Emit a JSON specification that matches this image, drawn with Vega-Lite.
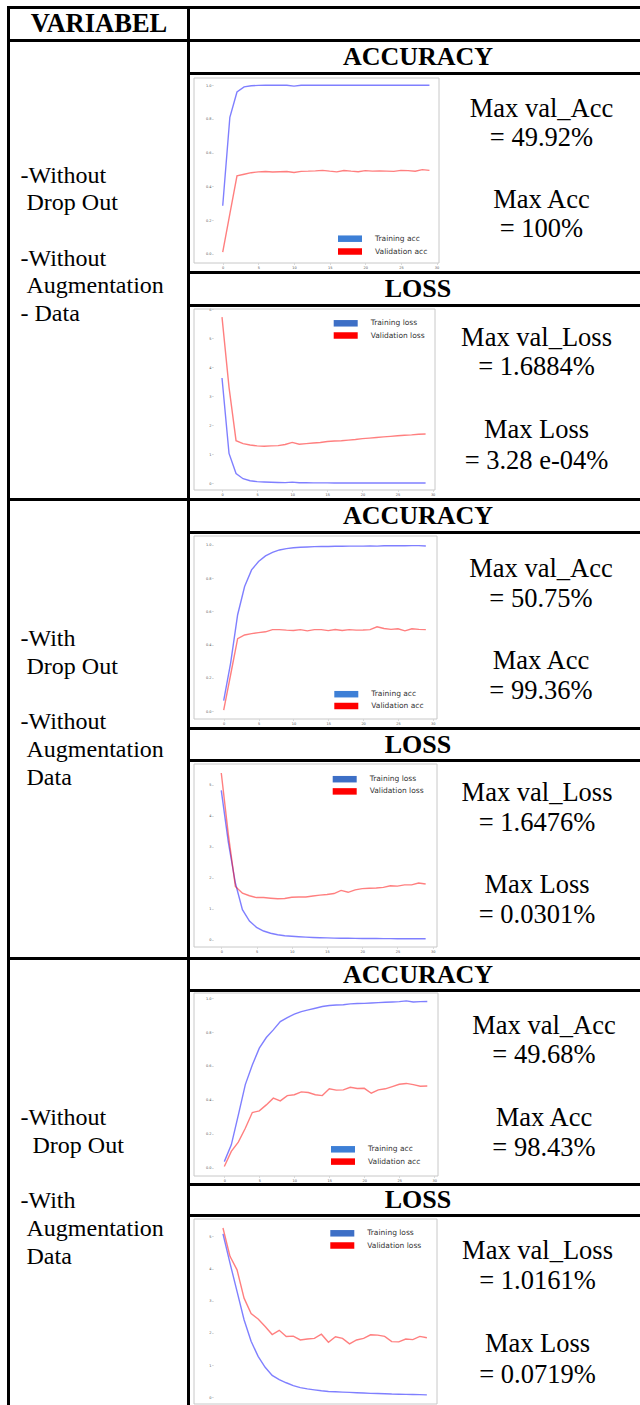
{
 "$schema": "https://vega.github.io/schema/vega-lite/v6.json",
 "padding": {"left": 7, "top": 6, "right": 0, "bottom": 0},
 "spacing": 0,
 "resolve": {"scale": {"color": "independent", "stroke": "independent"}, "legend": {"color": "independent", "stroke": "independent"}},
 "datasets": {
  "a1": [
   {"epoch":0,"Training acc":0.285,"Validation acc":0.01},
   {"epoch":1,"Training acc":0.81,"Validation acc":0.236},
   {"epoch":2,"Training acc":0.96,"Validation acc":0.462},
   {"epoch":3,"Training acc":0.99,"Validation acc":0.472},
   {"epoch":4,"Training acc":0.997,"Validation acc":0.481},
   {"epoch":5,"Training acc":0.999,"Validation acc":0.486},
   {"epoch":6,"Training acc":1.0,"Validation acc":0.488},
   {"epoch":7,"Training acc":1.0,"Validation acc":0.485},
   {"epoch":8,"Training acc":1.0,"Validation acc":0.487},
   {"epoch":9,"Training acc":1.0,"Validation acc":0.488},
   {"epoch":10,"Training acc":0.995,"Validation acc":0.482},
   {"epoch":11,"Training acc":1.0,"Validation acc":0.489},
   {"epoch":12,"Training acc":1.0,"Validation acc":0.49},
   {"epoch":13,"Training acc":1.0,"Validation acc":0.492},
   {"epoch":14,"Training acc":1.0,"Validation acc":0.495},
   {"epoch":15,"Training acc":1.0,"Validation acc":0.49},
   {"epoch":16,"Training acc":1.0,"Validation acc":0.486},
   {"epoch":17,"Training acc":1.0,"Validation acc":0.494},
   {"epoch":18,"Training acc":1.0,"Validation acc":0.49},
   {"epoch":19,"Training acc":1.0,"Validation acc":0.487},
   {"epoch":20,"Training acc":1.0,"Validation acc":0.493},
   {"epoch":21,"Training acc":1.0,"Validation acc":0.49},
   {"epoch":22,"Training acc":1.0,"Validation acc":0.491},
   {"epoch":23,"Training acc":1.0,"Validation acc":0.49},
   {"epoch":24,"Training acc":1.0,"Validation acc":0.489},
   {"epoch":25,"Training acc":1.0,"Validation acc":0.495},
   {"epoch":26,"Training acc":1.0,"Validation acc":0.493},
   {"epoch":27,"Training acc":1.0,"Validation acc":0.49},
   {"epoch":28,"Training acc":1.0,"Validation acc":0.4992},
   {"epoch":29,"Training acc":1.0,"Validation acc":0.495}
  ],
  "l1": [
   {"epoch":0,"Training loss":3.62,"Validation loss":5.72},
   {"epoch":1,"Training loss":1.02,"Validation loss":3.3},
   {"epoch":2,"Training loss":0.33,"Validation loss":1.46},
   {"epoch":3,"Training loss":0.15,"Validation loss":1.36},
   {"epoch":4,"Training loss":0.08,"Validation loss":1.31},
   {"epoch":5,"Training loss":0.05,"Validation loss":1.28},
   {"epoch":6,"Training loss":0.035,"Validation loss":1.27},
   {"epoch":7,"Training loss":0.025,"Validation loss":1.28},
   {"epoch":8,"Training loss":0.02,"Validation loss":1.29},
   {"epoch":9,"Training loss":0.015,"Validation loss":1.33},
   {"epoch":10,"Training loss":0.03,"Validation loss":1.4},
   {"epoch":11,"Training loss":0.012,"Validation loss":1.34},
   {"epoch":12,"Training loss":0.008,"Validation loss":1.36},
   {"epoch":13,"Training loss":0.006,"Validation loss":1.38},
   {"epoch":14,"Training loss":0.005,"Validation loss":1.4},
   {"epoch":15,"Training loss":0.004,"Validation loss":1.43},
   {"epoch":16,"Training loss":0.003,"Validation loss":1.45},
   {"epoch":17,"Training loss":0.003,"Validation loss":1.46},
   {"epoch":18,"Training loss":0.002,"Validation loss":1.48},
   {"epoch":19,"Training loss":0.002,"Validation loss":1.5},
   {"epoch":20,"Training loss":0.002,"Validation loss":1.53},
   {"epoch":21,"Training loss":0.001,"Validation loss":1.55},
   {"epoch":22,"Training loss":0.001,"Validation loss":1.57},
   {"epoch":23,"Training loss":0.001,"Validation loss":1.59},
   {"epoch":24,"Training loss":0.001,"Validation loss":1.61},
   {"epoch":25,"Training loss":0.001,"Validation loss":1.63},
   {"epoch":26,"Training loss":0.0005,"Validation loss":1.65},
   {"epoch":27,"Training loss":0.0005,"Validation loss":1.66},
   {"epoch":28,"Training loss":0.0004,"Validation loss":1.68},
   {"epoch":29,"Training loss":0.0003,"Validation loss":1.69}
  ],
  "a2": [
   {"epoch":0,"Training acc":0.062,"Validation acc":0.006},
   {"epoch":1,"Training acc":0.29,"Validation acc":0.22},
   {"epoch":2,"Training acc":0.58,"Validation acc":0.436},
   {"epoch":3,"Training acc":0.75,"Validation acc":0.458},
   {"epoch":4,"Training acc":0.85,"Validation acc":0.466},
   {"epoch":5,"Training acc":0.9,"Validation acc":0.472},
   {"epoch":6,"Training acc":0.934,"Validation acc":0.477},
   {"epoch":7,"Training acc":0.956,"Validation acc":0.49},
   {"epoch":8,"Training acc":0.97,"Validation acc":0.49},
   {"epoch":9,"Training acc":0.978,"Validation acc":0.487},
   {"epoch":10,"Training acc":0.983,"Validation acc":0.485},
   {"epoch":11,"Training acc":0.986,"Validation acc":0.49},
   {"epoch":12,"Training acc":0.988,"Validation acc":0.483},
   {"epoch":13,"Training acc":0.99,"Validation acc":0.49},
   {"epoch":14,"Training acc":0.991,"Validation acc":0.49},
   {"epoch":15,"Training acc":0.991,"Validation acc":0.484},
   {"epoch":16,"Training acc":0.992,"Validation acc":0.491},
   {"epoch":17,"Training acc":0.992,"Validation acc":0.485},
   {"epoch":18,"Training acc":0.993,"Validation acc":0.49},
   {"epoch":19,"Training acc":0.993,"Validation acc":0.487},
   {"epoch":20,"Training acc":0.993,"Validation acc":0.488},
   {"epoch":21,"Training acc":0.994,"Validation acc":0.49},
   {"epoch":22,"Training acc":0.993,"Validation acc":0.5075},
   {"epoch":23,"Training acc":0.995,"Validation acc":0.497},
   {"epoch":24,"Training acc":0.995,"Validation acc":0.492},
   {"epoch":25,"Training acc":0.995,"Validation acc":0.495},
   {"epoch":26,"Training acc":0.995,"Validation acc":0.483},
   {"epoch":27,"Training acc":0.996,"Validation acc":0.495},
   {"epoch":28,"Training acc":0.996,"Validation acc":0.492},
   {"epoch":29,"Training acc":0.9936,"Validation acc":0.49}
  ],
  "l2": [
   {"epoch":0,"Training loss":4.82,"Validation loss":5.38},
   {"epoch":1,"Training loss":3.15,"Validation loss":3.4},
   {"epoch":2,"Training loss":1.83,"Validation loss":1.72},
   {"epoch":3,"Training loss":0.97,"Validation loss":1.5},
   {"epoch":4,"Training loss":0.6,"Validation loss":1.42},
   {"epoch":5,"Training loss":0.4,"Validation loss":1.36},
   {"epoch":6,"Training loss":0.28,"Validation loss":1.36},
   {"epoch":7,"Training loss":0.21,"Validation loss":1.34},
   {"epoch":8,"Training loss":0.16,"Validation loss":1.32},
   {"epoch":9,"Training loss":0.13,"Validation loss":1.33},
   {"epoch":10,"Training loss":0.11,"Validation loss":1.37},
   {"epoch":11,"Training loss":0.095,"Validation loss":1.38},
   {"epoch":12,"Training loss":0.082,"Validation loss":1.38},
   {"epoch":13,"Training loss":0.072,"Validation loss":1.41},
   {"epoch":14,"Training loss":0.065,"Validation loss":1.44},
   {"epoch":15,"Training loss":0.058,"Validation loss":1.46},
   {"epoch":16,"Training loss":0.053,"Validation loss":1.49},
   {"epoch":17,"Training loss":0.049,"Validation loss":1.59},
   {"epoch":18,"Training loss":0.046,"Validation loss":1.53},
   {"epoch":19,"Training loss":0.043,"Validation loss":1.61},
   {"epoch":20,"Training loss":0.041,"Validation loss":1.65},
   {"epoch":21,"Training loss":0.039,"Validation loss":1.66},
   {"epoch":22,"Training loss":0.037,"Validation loss":1.67},
   {"epoch":23,"Training loss":0.035,"Validation loss":1.69},
   {"epoch":24,"Training loss":0.034,"Validation loss":1.74},
   {"epoch":25,"Training loss":0.033,"Validation loss":1.73},
   {"epoch":26,"Training loss":0.032,"Validation loss":1.77},
   {"epoch":27,"Training loss":0.031,"Validation loss":1.77},
   {"epoch":28,"Training loss":0.0305,"Validation loss":1.83},
   {"epoch":29,"Training loss":0.0301,"Validation loss":1.8}
  ],
  "a3": [
   {"epoch":0,"Training acc":0.035,"Validation acc":0.006},
   {"epoch":1,"Training acc":0.134,"Validation acc":0.095},
   {"epoch":2,"Training acc":0.31,"Validation acc":0.15},
   {"epoch":3,"Training acc":0.49,"Validation acc":0.232},
   {"epoch":4,"Training acc":0.606,"Validation acc":0.325},
   {"epoch":5,"Training acc":0.705,"Validation acc":0.335},
   {"epoch":6,"Training acc":0.768,"Validation acc":0.37},
   {"epoch":7,"Training acc":0.813,"Validation acc":0.41},
   {"epoch":8,"Training acc":0.862,"Validation acc":0.394},
   {"epoch":9,"Training acc":0.886,"Validation acc":0.425},
   {"epoch":10,"Training acc":0.906,"Validation acc":0.43},
   {"epoch":11,"Training acc":0.921,"Validation acc":0.447},
   {"epoch":12,"Training acc":0.931,"Validation acc":0.443},
   {"epoch":13,"Training acc":0.941,"Validation acc":0.43},
   {"epoch":14,"Training acc":0.951,"Validation acc":0.425},
   {"epoch":15,"Training acc":0.957,"Validation acc":0.465},
   {"epoch":16,"Training acc":0.96,"Validation acc":0.457},
   {"epoch":17,"Training acc":0.962,"Validation acc":0.459},
   {"epoch":18,"Training acc":0.967,"Validation acc":0.474},
   {"epoch":19,"Training acc":0.969,"Validation acc":0.467},
   {"epoch":20,"Training acc":0.97,"Validation acc":0.468},
   {"epoch":21,"Training acc":0.972,"Validation acc":0.439},
   {"epoch":22,"Training acc":0.974,"Validation acc":0.459},
   {"epoch":23,"Training acc":0.976,"Validation acc":0.465},
   {"epoch":24,"Training acc":0.978,"Validation acc":0.478},
   {"epoch":25,"Training acc":0.98,"Validation acc":0.492},
   {"epoch":26,"Training acc":0.9843,"Validation acc":0.4968},
   {"epoch":27,"Training acc":0.978,"Validation acc":0.49},
   {"epoch":28,"Training acc":0.98,"Validation acc":0.48},
   {"epoch":29,"Training acc":0.981,"Validation acc":0.482}
  ],
  "l3": [
   {"epoch":0,"Training loss":5.08,"Validation loss":5.26},
   {"epoch":1,"Training loss":4.17,"Validation loss":4.38},
   {"epoch":2,"Training loss":3.29,"Validation loss":3.96},
   {"epoch":3,"Training loss":2.41,"Validation loss":3.08},
   {"epoch":4,"Training loss":1.74,"Validation loss":2.6},
   {"epoch":5,"Training loss":1.27,"Validation loss":2.43},
   {"epoch":6,"Training loss":0.93,"Validation loss":2.2},
   {"epoch":7,"Training loss":0.68,"Validation loss":1.95},
   {"epoch":8,"Training loss":0.55,"Validation loss":2.08},
   {"epoch":9,"Training loss":0.45,"Validation loss":1.89},
   {"epoch":10,"Training loss":0.36,"Validation loss":1.9},
   {"epoch":11,"Training loss":0.3,"Validation loss":1.78},
   {"epoch":12,"Training loss":0.26,"Validation loss":1.81},
   {"epoch":13,"Training loss":0.23,"Validation loss":1.83},
   {"epoch":14,"Training loss":0.2,"Validation loss":1.96},
   {"epoch":15,"Training loss":0.18,"Validation loss":1.71},
   {"epoch":16,"Training loss":0.17,"Validation loss":1.88},
   {"epoch":17,"Training loss":0.16,"Validation loss":1.83},
   {"epoch":18,"Training loss":0.15,"Validation loss":1.66},
   {"epoch":19,"Training loss":0.14,"Validation loss":1.78},
   {"epoch":20,"Training loss":0.13,"Validation loss":1.83},
   {"epoch":21,"Training loss":0.12,"Validation loss":1.94},
   {"epoch":22,"Training loss":0.115,"Validation loss":1.93},
   {"epoch":23,"Training loss":0.11,"Validation loss":1.89},
   {"epoch":24,"Training loss":0.1,"Validation loss":1.73},
   {"epoch":25,"Training loss":0.095,"Validation loss":1.72},
   {"epoch":26,"Training loss":0.09,"Validation loss":1.81},
   {"epoch":27,"Training loss":0.085,"Validation loss":1.79},
   {"epoch":28,"Training loss":0.08,"Validation loss":1.89},
   {"epoch":29,"Training loss":0.075,"Validation loss":1.85}
  ]
 },
 "hconcat": [
  {"width": 3, "height": 1399, "view": {"fill": "black"}, "data": {"values": []}, "mark": "point"},
  {"vconcat": [
    {"width": 177, "height": 3, "view": {"fill": "black"}, "data": {"values": []}, "mark": "point"},
    {"width": 177, "height": 30, "data": {"values": [{"t": "VARIABEL"}]}, "mark": {"type": "text", "fontSize": 26.5, "fontWeight": "bold", "align": "center", "baseline": "middle", "x": 89}, "encoding": {"text": {"field": "t"}}},
    {"width": 177, "height": 3, "view": {"fill": "black"}, "data": {"values": []}, "mark": "point"},
    {"width": 177, "height": 456, "layer": [
      {"data": {"values": [{"t": "-Without\n\u200b\u00a0Drop Out"}]}, "mark": {"type": "text", "lineBreak": "\n", "fontSize": 24, "lineHeight": 27.6, "align": "left", "baseline": "top", "x": 10.5, "y": 121.9}, "encoding": {"text": {"field": "t"}}},
      {"data": {"values": [{"t": "-Without\n\u200b\u00a0Augmentation\n- Data"}]}, "mark": {"type": "text", "lineBreak": "\n", "fontSize": 24, "lineHeight": 27.6, "align": "left", "baseline": "top", "x": 10.5, "y": 204.9}, "encoding": {"text": {"field": "t"}}}
     ]},
    {"width": 177, "height": 3, "view": {"fill": "black"}, "data": {"values": []}, "mark": "point"},
    {"width": 177, "height": 456, "layer": [
      {"data": {"values": [{"t": "-With\n\u200b\u00a0Drop Out"}]}, "mark": {"type": "text", "lineBreak": "\n", "fontSize": 24, "lineHeight": 28.5, "align": "left", "baseline": "top", "x": 10.5, "y": 125.9}, "encoding": {"text": {"field": "t"}}},
      {"data": {"values": [{"t": "-Without\n\u200b\u00a0Augmentation\n\u200b\u00a0Data"}]}, "mark": {"type": "text", "lineBreak": "\n", "fontSize": 24, "lineHeight": 28, "align": "left", "baseline": "top", "x": 10.5, "y": 208.9}, "encoding": {"text": {"field": "t"}}}
     ]},
    {"width": 177, "height": 3, "view": {"fill": "black"}, "data": {"values": []}, "mark": "point"},
    {"width": 177, "height": 445, "layer": [
      {"data": {"values": [{"t": "-Without\n\u200b\u00a0\u00a0Drop Out"}]}, "mark": {"type": "text", "lineBreak": "\n", "fontSize": 24, "lineHeight": 28, "align": "left", "baseline": "top", "x": 10.5, "y": 145.9}, "encoding": {"text": {"field": "t"}}},
      {"data": {"values": [{"t": "-With\n\u200b\u00a0Augmentation\n\u200b\u00a0Data"}]}, "mark": {"type": "text", "lineBreak": "\n", "fontSize": 24, "lineHeight": 28, "align": "left", "baseline": "top", "x": 10.5, "y": 228.9}, "encoding": {"text": {"field": "t"}}}
     ]}
   ], "spacing": 0, "bounds": "flush"},
  {"width": 3, "height": 1399, "view": {"fill": "black"}, "data": {"values": []}, "mark": "point"},
  {"vconcat": [
    {"width": 450, "height": 3, "view": {"fill": "black"}, "data": {"values": []}, "mark": "point"},
    {"width": 450, "height": 30, "data": {"values": []}, "mark": "point"},
    {"width": 450, "height": 3, "view": {"fill": "black"}, "data": {"values": []}, "mark": "point"},
    {"width": 450, "height": 30, "data": {"values": [{"t": "ACCURACY"}]}, "mark": {"type": "text", "fontSize": 26, "fontWeight": "bold", "align": "center", "baseline": "middle", "x": 228}, "encoding": {"text": {"field": "t"}}},
    {"width": 450, "height": 3, "view": {"fill": "black"}, "data": {"values": []}, "mark": "point"},
    {"width": 450, "height": 196, "layer": [
      {"data": {"values": [{}]}, "mark": {"type": "rect", "fill": "white", "fillOpacity": 0, "stroke": "#c8c8c8", "strokeWidth": 1},
       "encoding": {"x": {"datum": -4.03, "type": "quantitative", "scale": {"domain": [-4.03, 30.34], "range": [4, 249], "nice": false, "zero": false}, "axis": {"title": null, "values": [0,5,10,15,20,25,30], "offset": -8}}, "x2": {"datum": 30.34}, "y": {"datum": -0.055, "type": "quantitative", "scale": {"domain": [-0.055, 1.043], "range": [188, 3], "nice": false, "zero": false}, "axis": {"title": null, "values": [0,0.2,0.4,0.6,0.8,1], "format": ".1f", "offset": -23}}, "y2": {"datum": 1.043}}},
      {"data": {"name": "a1"}, "transform": [{"fold": ["Training acc", "Validation acc"], "as": ["s", "v"]}], "mark": {"type": "line", "strokeWidth": 1.4, "opacity": 0.5},
       "encoding": {"x": {"field": "epoch", "type": "quantitative", "scale": {"domain": [-4.03, 30.34], "range": [4, 249], "nice": false, "zero": false}, "axis": {"title": null, "values": [0,5,10,15,20,25,30], "offset": -8}},
        "y": {"field": "v", "type": "quantitative", "scale": {"domain": [-0.055, 1.043], "range": [188, 3], "nice": false, "zero": false}, "axis": {"title": null, "values": [0,0.2,0.4,0.6,0.8,1], "format": ".1f", "offset": -23}},
        "stroke": {"field": "s", "type": "nominal", "scale": {"range": ["#0000ff", "#ff0000"]}, "legend": null}}},
      {"data": {"name": "a1"}, "transform": [{"fold": ["Training acc", "Validation acc"], "as": ["series", "value"]}], "mark": {"type": "square", "opacity": 0},
       "encoding": {"x": {"field": "epoch", "type": "quantitative", "axis": {"title": null, "values": [0,5,10,15,20,25,30], "offset": -8}}, "y": {"field": "value", "type": "quantitative", "axis": {"title": null, "values": [0,0.2,0.4,0.6,0.8,1], "format": ".1f", "offset": -23}},
        "color": {"field": "series", "type": "nominal", "scale": {"domain": ["Training acc", "Validation acc"], "range": ["#3d7fd6", "#ff0000"]},
         "legend": {"title": null, "orient": "none", "legendX": 155, "legendY": 158.7, "symbolType": "M-2.4,-0.65H2.4V0.65H-2.4Z", "symbolSize": 100, "symbolOpacity": 1, "symbolStrokeWidth": 0, "labelOffset": 20, "rowPadding": 3.8, "padding": 0}}}},
      {"data": {"values": [{"t": "Max val_Acc\n= 49.92%"}]}, "mark": {"type": "text", "lineBreak": "\n", "fontSize": 26.5, "lineHeight": 29.5, "align": "center", "baseline": "top", "x": 351.5, "y": 20.8}, "encoding": {"text": {"field": "t"}}},
      {"data": {"values": [{"t": "Max Acc\n= 100%"}]}, "mark": {"type": "text", "lineBreak": "\n", "fontSize": 26.5, "lineHeight": 29.5, "align": "center", "baseline": "top", "x": 351.5, "y": 111.8}, "encoding": {"text": {"field": "t"}}}
     ]},
    {"width": 450, "height": 3, "view": {"fill": "black"}, "data": {"values": []}, "mark": "point"},
    {"width": 450, "height": 30, "data": {"values": [{"t": "LOSS"}]}, "mark": {"type": "text", "fontSize": 26, "fontWeight": "bold", "align": "center", "baseline": "middle", "x": 228}, "encoding": {"text": {"field": "t"}}},
    {"width": 450, "height": 3, "view": {"fill": "black"}, "data": {"values": []}, "mark": "point"},
    {"width": 450, "height": 191, "layer": [
      {"data": {"values": [{}]}, "mark": {"type": "rect", "fill": "white", "fillOpacity": 0, "stroke": "#c8c8c8", "strokeWidth": 1},
       "encoding": {"x": {"datum": -3.99, "type": "quantitative", "scale": {"domain": [-3.99, 30.34], "range": [4, 245], "nice": false, "zero": false}, "axis": {"title": null, "values": [0,5,10,15,20,25,30], "offset": -8}}, "x2": {"datum": 30.34}, "y": {"datum": -0.24, "type": "quantitative", "scale": {"domain": [-0.24, 6.0], "range": [183, 2], "nice": false, "zero": false}, "axis": {"title": null, "values": [0,1,2,3,4,5,6], "format": "d", "offset": -23}}, "y2": {"datum": 6.0}}},
      {"data": {"name": "l1"}, "transform": [{"fold": ["Training loss", "Validation loss"], "as": ["s", "v"]}], "mark": {"type": "line", "strokeWidth": 1.4, "opacity": 0.5},
       "encoding": {"x": {"field": "epoch", "type": "quantitative", "scale": {"domain": [-3.99, 30.34], "range": [4, 245], "nice": false, "zero": false}, "axis": {"title": null, "values": [0,5,10,15,20,25,30], "offset": -8}},
        "y": {"field": "v", "type": "quantitative", "scale": {"domain": [-0.24, 6.0], "range": [183, 2], "nice": false, "zero": false}, "axis": {"title": null, "values": [0,1,2,3,4,5,6], "format": "d", "offset": -23}},
        "stroke": {"field": "s", "type": "nominal", "scale": {"range": ["#0000ff", "#ff0000"]}, "legend": null}}},
      {"data": {"name": "l1"}, "transform": [{"fold": ["Training loss", "Validation loss"], "as": ["series", "value"]}], "mark": {"type": "square", "opacity": 0},
       "encoding": {"x": {"field": "epoch", "type": "quantitative", "axis": {"title": null, "values": [0,5,10,15,20,25,30], "offset": -8}}, "y": {"field": "value", "type": "quantitative", "axis": {"title": null, "values": [0,1,2,3,4,5,6], "format": "d", "offset": -23}},
        "color": {"field": "series", "type": "nominal", "scale": {"domain": ["Training loss", "Validation loss"], "range": ["#3d6fc6", "#ff0000"]},
         "legend": {"title": null, "orient": "none", "legendX": 150.7, "legendY": 11.3, "symbolType": "M-2.4,-0.65H2.4V0.65H-2.4Z", "symbolSize": 100, "symbolOpacity": 1, "symbolStrokeWidth": 0, "labelOffset": 20, "rowPadding": 3.2, "padding": 0}}}},
      {"data": {"values": [{"t": "Max val_Loss\n= 1.6884%"}]}, "mark": {"type": "text", "lineBreak": "\n", "fontSize": 26.5, "lineHeight": 29.5, "align": "center", "baseline": "top", "x": 346.5, "y": 17.8}, "encoding": {"text": {"field": "t"}}},
      {"data": {"values": [{"t": "Max Loss\n= 3.28 e-04%"}]}, "mark": {"type": "text", "lineBreak": "\n", "fontSize": 26.5, "lineHeight": 31, "align": "center", "baseline": "top", "x": 346.5, "y": 109.8}, "encoding": {"text": {"field": "t"}}}
     ]},
    {"width": 450, "height": 3, "view": {"fill": "black"}, "data": {"values": []}, "mark": "point"},
    {"width": 450, "height": 30, "data": {"values": [{"t": "ACCURACY"}]}, "mark": {"type": "text", "fontSize": 26, "fontWeight": "bold", "align": "center", "baseline": "middle", "x": 228}, "encoding": {"text": {"field": "t"}}},
    {"width": 450, "height": 3, "view": {"fill": "black"}, "data": {"values": []}, "mark": "point"},
    {"width": 450, "height": 193, "layer": [
      {"data": {"values": [{}]}, "mark": {"type": "rect", "fill": "white", "fillOpacity": 0, "stroke": "#c8c8c8", "strokeWidth": 1},
       "encoding": {"x": {"datum": -4.26, "type": "quantitative", "scale": {"domain": [-4.26, 30.6], "range": [4, 247], "nice": false, "zero": false}, "axis": {"title": null, "values": [0,5,10,15,20,25,30], "offset": -8}}, "x2": {"datum": 30.6}, "y": {"datum": -0.048, "type": "quantitative", "scale": {"domain": [-0.048, 1.054], "range": [185, 2], "nice": false, "zero": false}, "axis": {"title": null, "values": [0,0.2,0.4,0.6,0.8,1], "format": ".1f", "offset": -23}}, "y2": {"datum": 1.054}}},
      {"data": {"name": "a2"}, "transform": [{"fold": ["Training acc", "Validation acc"], "as": ["s", "v"]}], "mark": {"type": "line", "strokeWidth": 1.4, "opacity": 0.5},
       "encoding": {"x": {"field": "epoch", "type": "quantitative", "scale": {"domain": [-4.26, 30.6], "range": [4, 247], "nice": false, "zero": false}, "axis": {"title": null, "values": [0,5,10,15,20,25,30], "offset": -8}},
        "y": {"field": "v", "type": "quantitative", "scale": {"domain": [-0.048, 1.054], "range": [185, 2], "nice": false, "zero": false}, "axis": {"title": null, "values": [0,0.2,0.4,0.6,0.8,1], "format": ".1f", "offset": -23}},
        "stroke": {"field": "s", "type": "nominal", "scale": {"range": ["#0000ff", "#ff0000"]}, "legend": null}}},
      {"data": {"name": "a2"}, "transform": [{"fold": ["Training acc", "Validation acc"], "as": ["series", "value"]}], "mark": {"type": "square", "opacity": 0},
       "encoding": {"x": {"field": "epoch", "type": "quantitative", "axis": {"title": null, "values": [0,5,10,15,20,25,30], "offset": -8}}, "y": {"field": "value", "type": "quantitative", "axis": {"title": null, "values": [0,0.2,0.4,0.6,0.8,1], "format": ".1f", "offset": -23}},
        "color": {"field": "series", "type": "nominal", "scale": {"domain": ["Training acc", "Validation acc"], "range": ["#3d7fd6", "#ff0000"]},
         "legend": {"title": null, "orient": "none", "legendX": 151.3, "legendY": 155.2, "symbolType": "M-2.4,-0.65H2.4V0.65H-2.4Z", "symbolSize": 100, "symbolOpacity": 1, "symbolStrokeWidth": 0, "labelOffset": 20, "rowPadding": 2.8, "padding": 0}}}},
      {"data": {"values": [{"t": "Max val_Acc\n= 50.75%"}]}, "mark": {"type": "text", "lineBreak": "\n", "fontSize": 26.5, "lineHeight": 30.5, "align": "center", "baseline": "top", "x": 351, "y": 21.8}, "encoding": {"text": {"field": "t"}}},
      {"data": {"values": [{"t": "Max Acc\n= 99.36%"}]}, "mark": {"type": "text", "lineBreak": "\n", "fontSize": 26.5, "lineHeight": 30.5, "align": "center", "baseline": "top", "x": 351, "y": 113.8}, "encoding": {"text": {"field": "t"}}}
     ]},
    {"width": 450, "height": 3, "view": {"fill": "black"}, "data": {"values": []}, "mark": "point"},
    {"width": 450, "height": 29, "data": {"values": [{"t": "LOSS"}]}, "mark": {"type": "text", "fontSize": 26, "fontWeight": "bold", "align": "center", "baseline": "middle", "x": 228}, "encoding": {"text": {"field": "t"}}},
    {"width": 450, "height": 3, "view": {"fill": "black"}, "data": {"values": []}, "mark": "point"},
    {"width": 450, "height": 195, "layer": [
      {"data": {"values": [{}]}, "mark": {"type": "rect", "fill": "white", "fillOpacity": 0, "stroke": "#c8c8c8", "strokeWidth": 1},
       "encoding": {"x": {"datum": -3.87, "type": "quantitative", "scale": {"domain": [-3.87, 30.61], "range": [4, 247], "nice": false, "zero": false}, "axis": {"title": null, "values": [0,5,10,15,20,25,30], "offset": -10}}, "x2": {"datum": 30.61}, "y": {"datum": -0.235, "type": "quantitative", "scale": {"domain": [-0.235, 5.67], "range": [185, 2], "nice": false, "zero": false}, "axis": {"title": null, "values": [0,1,2,3,4,5], "format": "d", "offset": -23}}, "y2": {"datum": 5.67}}},
      {"data": {"name": "l2"}, "transform": [{"fold": ["Training loss", "Validation loss"], "as": ["s", "v"]}], "mark": {"type": "line", "strokeWidth": 1.4, "opacity": 0.5},
       "encoding": {"x": {"field": "epoch", "type": "quantitative", "scale": {"domain": [-3.87, 30.61], "range": [4, 247], "nice": false, "zero": false}, "axis": {"title": null, "values": [0,5,10,15,20,25,30], "offset": -10}},
        "y": {"field": "v", "type": "quantitative", "scale": {"domain": [-0.235, 5.67], "range": [185, 2], "nice": false, "zero": false}, "axis": {"title": null, "values": [0,1,2,3,4,5], "format": "d", "offset": -23}},
        "stroke": {"field": "s", "type": "nominal", "scale": {"range": ["#0000ff", "#ff0000"]}, "legend": null}}},
      {"data": {"name": "l2"}, "transform": [{"fold": ["Training loss", "Validation loss"], "as": ["series", "value"]}], "mark": {"type": "square", "opacity": 0},
       "encoding": {"x": {"field": "epoch", "type": "quantitative", "axis": {"title": null, "values": [0,5,10,15,20,25,30], "offset": -10}}, "y": {"field": "value", "type": "quantitative", "axis": {"title": null, "values": [0,1,2,3,4,5], "format": "d", "offset": -23}},
        "color": {"field": "series", "type": "nominal", "scale": {"domain": ["Training loss", "Validation loss"], "range": ["#3d6fc6", "#ff0000"]},
         "legend": {"title": null, "orient": "none", "legendX": 149.7, "legendY": 12.2, "symbolType": "M-2.4,-0.65H2.4V0.65H-2.4Z", "symbolSize": 100, "symbolOpacity": 1, "symbolStrokeWidth": 0, "labelOffset": 20, "rowPadding": 3.2, "padding": 0}}}},
      {"data": {"values": [{"t": "Max val_Loss\n= 1.6476%"}]}, "mark": {"type": "text", "lineBreak": "\n", "fontSize": 26.5, "lineHeight": 30, "align": "center", "baseline": "top", "x": 347, "y": 17.8}, "encoding": {"text": {"field": "t"}}},
      {"data": {"values": [{"t": "Max Loss\n= 0.0301%"}]}, "mark": {"type": "text", "lineBreak": "\n", "fontSize": 26.5, "lineHeight": 30, "align": "center", "baseline": "top", "x": 347, "y": 109.8}, "encoding": {"text": {"field": "t"}}}
     ]},
    {"width": 450, "height": 3, "view": {"fill": "black"}, "data": {"values": []}, "mark": "point"},
    {"width": 450, "height": 29, "data": {"values": [{"t": "ACCURACY"}]}, "mark": {"type": "text", "fontSize": 26, "fontWeight": "bold", "align": "center", "baseline": "middle", "x": 228}, "encoding": {"text": {"field": "t"}}},
    {"width": 450, "height": 3, "view": {"fill": "black"}, "data": {"values": []}, "mark": "point"},
    {"width": 450, "height": 191, "layer": [
      {"data": {"values": [{}]}, "mark": {"type": "rect", "fill": "white", "fillOpacity": 0, "stroke": "#c8c8c8", "strokeWidth": 1},
       "encoding": {"x": {"datum": -4.33, "type": "quantitative", "scale": {"domain": [-4.33, 30.53], "range": [4, 248], "nice": false, "zero": false}, "axis": {"title": null, "values": [0,5,10,15,20,25,30], "offset": -7}}, "x2": {"datum": 30.53}, "y": {"datum": -0.05, "type": "quantitative", "scale": {"domain": [-0.05, 1.031], "range": [184, 1], "nice": false, "zero": false}, "axis": {"title": null, "values": [0,0.2,0.4,0.6,0.8,1], "format": ".1f", "offset": -23}}, "y2": {"datum": 1.031}}},
      {"data": {"name": "a3"}, "transform": [{"fold": ["Training acc", "Validation acc"], "as": ["s", "v"]}], "mark": {"type": "line", "strokeWidth": 1.4, "opacity": 0.5},
       "encoding": {"x": {"field": "epoch", "type": "quantitative", "scale": {"domain": [-4.33, 30.53], "range": [4, 248], "nice": false, "zero": false}, "axis": {"title": null, "values": [0,5,10,15,20,25,30], "offset": -7}},
        "y": {"field": "v", "type": "quantitative", "scale": {"domain": [-0.05, 1.031], "range": [184, 1], "nice": false, "zero": false}, "axis": {"title": null, "values": [0,0.2,0.4,0.6,0.8,1], "format": ".1f", "offset": -23}},
        "stroke": {"field": "s", "type": "nominal", "scale": {"range": ["#0000ff", "#ff0000"]}, "legend": null}}},
      {"data": {"name": "a3"}, "transform": [{"fold": ["Training acc", "Validation acc"], "as": ["series", "value"]}], "mark": {"type": "square", "opacity": 0},
       "encoding": {"x": {"field": "epoch", "type": "quantitative", "axis": {"title": null, "values": [0,5,10,15,20,25,30], "offset": -7}}, "y": {"field": "value", "type": "quantitative", "axis": {"title": null, "values": [0,0.2,0.4,0.6,0.8,1], "format": ".1f", "offset": -23}},
        "color": {"field": "series", "type": "nominal", "scale": {"domain": ["Training acc", "Validation acc"], "range": ["#3d7fd6", "#ff0000"]},
         "legend": {"title": null, "orient": "none", "legendX": 148, "legendY": 152.3, "symbolType": "M-2.4,-0.65H2.4V0.65H-2.4Z", "symbolSize": 100, "symbolOpacity": 1, "symbolStrokeWidth": 0, "labelOffset": 20, "rowPadding": 3.3, "padding": 0}}}},
      {"data": {"values": [{"t": "Max val_Acc\n= 49.68%"}]}, "mark": {"type": "text", "lineBreak": "\n", "fontSize": 26.5, "lineHeight": 29.5, "align": "center", "baseline": "top", "x": 354, "y": 20.8}, "encoding": {"text": {"field": "t"}}},
      {"data": {"values": [{"t": "Max Acc\n= 98.43%"}]}, "mark": {"type": "text", "lineBreak": "\n", "fontSize": 26.5, "lineHeight": 30, "align": "center", "baseline": "top", "x": 354, "y": 112.8}, "encoding": {"text": {"field": "t"}}}
     ]},
    {"width": 450, "height": 3, "view": {"fill": "black"}, "data": {"values": []}, "mark": "point"},
    {"width": 450, "height": 28, "data": {"values": [{"t": "LOSS"}]}, "mark": {"type": "text", "fontSize": 26, "fontWeight": "bold", "align": "center", "baseline": "middle", "x": 228}, "encoding": {"text": {"field": "t"}}},
    {"width": 450, "height": 3, "view": {"fill": "black"}, "data": {"values": []}, "mark": "point"},
    {"width": 450, "height": 188, "layer": [
      {"data": {"values": [{}]}, "mark": {"type": "rect", "fill": "white", "fillOpacity": 0, "stroke": "#c8c8c8", "strokeWidth": 1},
       "encoding": {"x": {"datum": -4.12, "type": "quantitative", "scale": {"domain": [-4.12, 30.44], "range": [4, 247], "nice": false, "zero": false}, "axis": {"title": null, "values": [0,5,10,15,20,25,30], "offset": -1, "labels": false, "ticks": false}}, "x2": {"datum": 30.44}, "y": {"datum": -0.21, "type": "quantitative", "scale": {"domain": [-0.21, 5.54], "range": [187, 2], "nice": false, "zero": false}, "axis": {"title": null, "values": [0,1,2,3,4,5], "format": "d", "offset": -23}}, "y2": {"datum": 5.54}}},
      {"data": {"name": "l3"}, "transform": [{"fold": ["Training loss", "Validation loss"], "as": ["s", "v"]}], "mark": {"type": "line", "strokeWidth": 1.4, "opacity": 0.5},
       "encoding": {"x": {"field": "epoch", "type": "quantitative", "scale": {"domain": [-4.12, 30.44], "range": [4, 247], "nice": false, "zero": false}, "axis": {"title": null, "values": [0,5,10,15,20,25,30], "offset": -1, "labels": false, "ticks": false}},
        "y": {"field": "v", "type": "quantitative", "scale": {"domain": [-0.21, 5.54], "range": [187, 2], "nice": false, "zero": false}, "axis": {"title": null, "values": [0,1,2,3,4,5], "format": "d", "offset": -23}},
        "stroke": {"field": "s", "type": "nominal", "scale": {"range": ["#0000ff", "#ff0000"]}, "legend": null}}},
      {"data": {"name": "l3"}, "transform": [{"fold": ["Training loss", "Validation loss"], "as": ["series", "value"]}], "mark": {"type": "square", "opacity": 0},
       "encoding": {"x": {"field": "epoch", "type": "quantitative", "axis": {"title": null, "values": [0,5,10,15,20,25,30], "offset": -1, "labels": false, "ticks": false}}, "y": {"field": "value", "type": "quantitative", "axis": {"title": null, "values": [0,1,2,3,4,5], "format": "d", "offset": -23}},
        "color": {"field": "series", "type": "nominal", "scale": {"domain": ["Training loss", "Validation loss"], "range": ["#3d6fc6", "#ff0000"]},
         "legend": {"title": null, "orient": "none", "legendX": 147.3, "legendY": 11.3, "symbolType": "M-2.4,-0.65H2.4V0.65H-2.4Z", "symbolSize": 100, "symbolOpacity": 1, "symbolStrokeWidth": 0, "labelOffset": 20, "rowPadding": 3.2, "padding": 0}}}},
      {"data": {"values": [{"t": "Max val_Loss\n= 1.0161%"}]}, "mark": {"type": "text", "lineBreak": "\n", "fontSize": 26.5, "lineHeight": 30, "align": "center", "baseline": "top", "x": 347.5, "y": 20.8}, "encoding": {"text": {"field": "t"}}},
      {"data": {"values": [{"t": "Max Loss\n= 0.0719%"}]}, "mark": {"type": "text", "lineBreak": "\n", "fontSize": 26.5, "lineHeight": 31, "align": "center", "baseline": "top", "x": 347.5, "y": 113.8}, "encoding": {"text": {"field": "t"}}}
     ]}
   ], "spacing": 0, "bounds": "flush", "resolve": {"scale": {"color": "independent", "stroke": "independent"}, "legend": {"color": "independent", "stroke": "independent"}}}
 ],
 "config": {
  "view": {"stroke": null},
  "font": "Liberation Serif",
  "text": {"font": "Liberation Serif", "color": "black"},
  "axis": {"grid": false, "domain": false, "ticks": true, "tickSize": 1.2, "tickColor": "#aaaaaa", "tickWidth": 0.6, "labelFontSize": 3.5, "labelFont": "DejaVu Sans", "labelColor": "#555555", "labelPadding": 0.8, "labelOverlap": false, "labelFlush": false, "minExtent": 0},
  "legend": {"labelFontSize": 7.5, "labelFont": "DejaVu Sans", "labelColor": "#333333"}
 }
}
